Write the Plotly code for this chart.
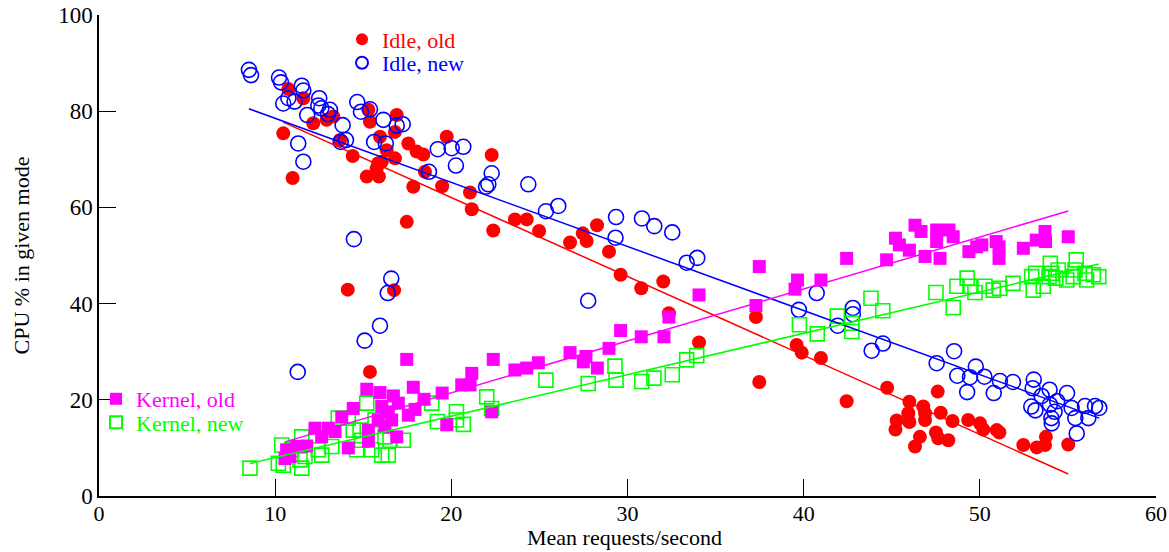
import numpy as np
import plotly.graph_objects as go

# ---- Data ----
idle_old_x = [10.75, 11.60, 10.46, 10.99, 12.16, 12.92, 13.30, 13.68, 14.40, 15.29,
              15.38, 16.90, 16.80, 15.95, 17.56, 18.03, 18.41, 16.33, 16.80, 15.85,
              15.20, 15.89, 17.84, 18.50, 19.48, 19.74, 21.06, 21.16, 22.29, 22.38,
              17.47, 14.12, 16.75, 15.38, 23.61, 24.28, 24.98, 26.74, 27.46, 27.68,
              28.27, 28.95, 29.61, 30.78, 32.03, 32.35, 34.06, 37.29, 37.48, 39.60,
              39.89, 40.98, 42.44, 44.74, 47.61, 46.00, 46.79, 45.94, 46.89, 47.78,
              45.28, 46.00, 46.89, 48.45, 45.21, 49.34, 50.01, 50.20, 50.96, 51.11,
              47.51, 46.60, 47.64, 48.21, 46.32, 52.47, 53.23, 53.70, 53.75, 55.02,
              16.05, 15.76]
idle_old_y = [84.6, 82.7, 75.4, 66.1, 77.5, 78.2, 78.9, 74.0, 70.7, 80.3,
              77.8, 79.2, 75.7, 74.7, 73.3, 71.6, 71.0, 71.9, 70.2, 69.2,
              66.4, 66.4, 64.3, 67.4, 64.4, 74.7, 63.1, 59.6, 70.9, 55.2,
              57.0, 42.9, 42.8, 25.8, 57.5, 57.5, 55.1, 52.7, 54.6, 53.0,
              56.3, 50.8, 46.0, 43.2, 44.6, 38.0, 31.9, 37.2, 23.7, 31.4,
              29.8, 28.7, 19.7, 22.5, 21.7, 19.6, 18.6, 17.2, 17.2, 17.3,
              15.7, 15.4, 15.8, 15.6, 13.8, 15.8, 15.1, 13.8, 13.7, 13.2,
              13.2, 12.3, 12.0, 11.6, 10.3, 10.6, 10.1, 10.6, 12.3, 10.7,
              69.5, 68.1]

idle_new_x = [8.51, 8.63, 10.22, 10.33, 11.51, 11.60, 10.75, 10.46, 11.10, 12.50,
              12.45, 12.62, 13.11, 13.00, 11.82, 13.83, 11.31, 11.60, 13.72, 14.02,
              14.66, 14.87, 15.38, 16.14, 16.90, 17.24, 15.62, 16.28, 19.23, 20.02,
              20.68, 20.26, 18.73, 22.29, 22.10, 21.97, 24.37, 25.37, 26.07, 29.35,
              29.32, 30.82, 31.52, 32.54, 33.36, 33.96, 27.77, 14.47, 16.59, 16.39,
              15.95, 15.08, 11.28, 40.74, 39.73, 42.79, 42.79, 41.93, 44.50, 43.86,
              48.54, 47.55, 49.77, 48.72, 49.44, 50.26, 49.28, 51.14, 50.79, 51.88,
              53.06, 53.00, 53.96, 53.51, 54.95, 52.92, 53.15, 53.98, 54.39, 54.24,
              54.06, 54.08, 55.21, 55.42, 55.97, 56.16, 56.54, 56.78, 55.50]
idle_new_y = [88.6, 87.5, 87.0, 86.0, 85.3, 84.3, 82.7, 81.6, 82.0, 82.7,
              81.2, 80.6, 80.3, 79.4, 79.2, 77.1, 73.3, 69.5, 73.6, 74.0,
              81.9, 79.9, 80.4, 78.2, 77.0, 77.3, 73.6, 73.3, 72.1, 72.3,
              72.6, 68.7, 67.4, 67.1, 64.8, 64.3, 64.8, 59.2, 60.3, 58.0,
              53.7, 57.7, 56.1, 54.8, 48.5, 49.5, 40.6, 53.4, 45.2, 42.2,
              35.4, 32.3, 25.8, 42.2, 38.7, 39.1, 37.8, 35.4, 31.7, 30.2,
              30.1, 27.6, 26.9, 25.0, 24.7, 24.8, 21.6, 23.9, 21.4, 23.7,
              24.2, 22.4, 22.1, 20.8, 21.4, 18.6, 17.8, 19.0, 19.7, 17.5,
              16.2, 15.1, 18.3, 16.2, 18.7, 16.2, 18.7, 18.3, 13.0]

kernel_old_x = [17.47, 15.20, 15.95, 16.71, 17.84, 19.48, 18.45, 16.99, 16.05, 14.43,
                13.78, 16.42, 17.56, 17.94, 15.85, 16.61, 15.29, 16.23, 12.26, 13.02,
                13.40, 12.64, 11.79, 11.22, 10.65, 10.84, 10.56, 14.15, 15.29, 16.90,
                19.74, 20.59, 22.38, 21.16, 21.06, 22.29, 23.61, 24.28, 24.94, 26.74,
                27.49, 27.64, 28.29, 28.95, 29.61, 30.78, 32.07, 32.35, 34.06, 37.29,
                37.48, 39.65, 39.51, 40.98, 42.44, 44.71, 45.21, 45.43, 46.00, 46.32,
                46.66, 46.89, 47.55, 47.55, 47.74, 48.25, 48.49, 49.38, 49.82, 50.11,
                50.93, 51.09, 51.09, 52.47, 53.20, 53.70, 53.73, 55.02]
kernel_old_y = [28.4, 22.2, 21.5, 20.8, 22.6, 21.4, 20.1, 19.3, 18.6, 18.2,
                16.4, 17.5, 16.8, 18.0, 15.8, 15.8, 13.7, 14.4, 14.1, 14.1,
                13.4, 12.3, 10.4, 10.3, 9.6, 8.2, 7.8, 10.0, 11.4, 12.3,
                14.8, 23.1, 28.4, 25.5, 23.1, 17.5, 26.2, 26.6, 27.7, 29.8,
                27.9, 29.0, 26.6, 30.7, 34.4, 33.1, 33.1, 37.2, 41.8, 39.6,
                47.7, 44.9, 43.0, 44.9, 49.4, 49.1, 53.6, 52.2, 51.1, 56.3,
                55.0, 49.8, 55.3, 52.9, 49.4, 55.3, 53.9, 50.8, 51.8, 52.2,
                52.9, 51.8, 49.4, 51.5, 53.2, 55.0, 52.9, 53.9]

kernel_new_x = [8.57, 10.37, 10.18, 10.46, 11.51, 11.41, 11.69, 10.94, 11.51, 12.45,
                12.64, 13.21, 13.58, 14.15, 14.43, 14.82, 14.63, 14.91, 15.20, 15.67,
                15.48, 16.05, 16.42, 16.23, 16.52, 17.27, 18.89, 19.21, 20.29, 20.29,
                20.68, 22.01, 22.29, 25.37, 27.77, 29.29, 29.35, 30.81, 31.50, 32.54,
                33.36, 33.93, 39.76, 40.77, 41.91, 42.73, 42.73, 43.82, 44.49, 47.51,
                48.49, 48.70, 49.28, 49.44, 49.72, 50.29, 50.76, 51.13, 51.88, 52.94,
                53.03, 53.18, 53.60, 54.00, 54.08, 54.31, 53.93, 54.45, 54.93, 55.40,
                55.47, 55.30, 55.97, 56.06, 56.44, 56.75]
kernel_new_y = [5.8, 10.6, 6.8, 6.4, 5.8, 7.5, 8.2, 9.6, 12.3, 9.6,
                8.5, 10.3, 16.2, 16.2, 13.7, 13.7, 9.6, 11.6, 19.3, 15.8,
                9.6, 8.5, 8.5, 12.3, 11.6, 11.6, 19.3, 15.5, 17.5, 15.8,
                14.9, 20.6, 18.2, 24.1, 23.4, 27.0, 24.1, 23.8, 24.5, 25.2,
                28.3, 29.2, 35.6, 33.7, 37.4, 35.9, 34.2, 41.1, 38.5, 42.3,
                39.2, 43.6, 45.3, 43.6, 42.3, 43.6, 42.8, 43.2, 44.2, 45.6,
                42.8, 46.3, 43.6, 48.4, 46.3, 45.3, 45.6, 47.0, 44.9, 47.0,
                49.1, 45.6, 46.3, 44.9, 46.0, 45.6]

x_ticks = [0, 10, 20, 30, 40, 50, 60]
y_ticks = [0, 20, 40, 60, 80, 100]

RED, BLUE, MAG, GRN = "#ff0000", "#0000ff", "#ff00ff", "#00ff00"
FONT = "Liberation Serif"

fig = go.Figure()

def add_points(x, y, name, color, symbol, size, legend, filled):
    marker = dict(symbol=symbol, size=size, color=color)
    if not filled:
        marker["line"] = dict(color=color, width=1.6)
    else:
        marker["line"] = dict(width=0)
    fig.add_trace(go.Scatter(
        x=x, y=y, mode="markers", marker=marker,
        name=f'<span style="color:{color}">{name}</span>',
        legend=legend))

add_points(idle_old_x, idle_old_y, "Idle, old", RED, "circle", 14, "legend", True)
add_points(idle_new_x, idle_new_y, "Idle, new", BLUE, "circle-open", 15, "legend2", False)
add_points(kernel_new_x, kernel_new_y, "Kernel, new", GRN, "square-open", 14, "legend4", False)
add_points(kernel_old_x, kernel_old_y, "Kernel, old", MAG, "square", 13, "legend3", True)

# least-squares fit lines spanning each series
for xs, ys, c in [(idle_old_x, idle_old_y, RED), (idle_new_x, idle_new_y, BLUE),
                  (kernel_old_x, kernel_old_y, MAG), (kernel_new_x, kernel_new_y, GRN)]:
    xa, ya = np.array(xs), np.array(ys)
    k, b = np.polyfit(xa, ya, 1)
    xl = np.array([xa.min(), xa.max()])
    fig.add_trace(go.Scatter(x=xl, y=k * xl + b, mode="lines",
                             line=dict(color=c, width=1.5), showlegend=False,
                             hoverinfo="skip"))

axis_common = dict(showgrid=False, zeroline=False, showline=True, linecolor="black",
                   linewidth=1.5, ticks="inside", ticklen=17, tickwidth=1.2,
                   tickcolor="black", mirror=False, automargin=False)

def leg(x, y):
    return dict(x=x, y=y, xanchor="left", yanchor="middle",
                bgcolor="rgba(0,0,0,0)", font=dict(family=FONT, size=22),
                itemsizing="constant", borderwidth=0)

# plot area: x 99..1156 px, y 15..496 px
def px(xp):
    return (xp - 99) / 1057.0

def py(yp):
    return (496 - yp) / 481.0

fig.update_layout(
    width=1169, height=552,
    margin=dict(l=99, r=13, t=15, b=56),
    paper_bgcolor="white", plot_bgcolor="white",
    font=dict(family=FONT, size=22, color="black"),
    xaxis=dict(range=[0, 60], tickvals=x_ticks, **axis_common,
               ticklabelstandoff=-3,
               tickfont=dict(family=FONT, size=22, color="black")),
    yaxis=dict(range=[0, 100], tickvals=y_ticks, **axis_common,
               tickfont=dict(family=FONT, size=23, color="black"),
               title=dict(text="CPU % in given mode", standoff=22,
                          font=dict(family=FONT, size=22))),
    legend=leg(px(342), py(39.5)),
    legend2=leg(px(342), py(63)),
    legend3=leg(px(96), py(399)),
    legend4=leg(px(96), py(422.5)),
    annotations=[dict(text="Mean requests/second", xref="paper", yref="paper",
                      x=px(624), y=py(552), xanchor="center", yanchor="bottom",
                      showarrow=False, font=dict(family=FONT, size=22, color="black"))],
    showlegend=True,
)

fig.write_html("out.html")
